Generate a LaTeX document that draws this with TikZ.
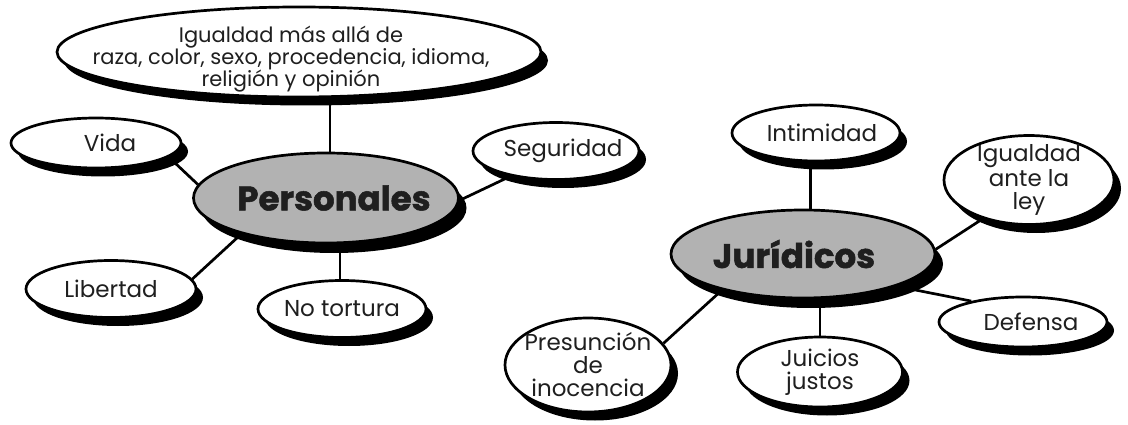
\documentclass[tikz,border=0pt]{standalone}
\usepackage{fontspec}
\setmainfont{Poppins}[BoldFeatures={FakeBold=1.5}]
\usetikzlibrary{shapes.geometric,shadows}
\pgfdeclarelayer{background}
\pgfsetlayers{background,main}
\tikzset{
  ell/.style={ellipse, draw=black, line width=2.7pt, fill=white, inner xsep=-20pt, inner ysep=-15pt,
    align=center, text=black!88},
  bub/.style={ell, font=\fontsize{23}{23}\selectfont,
    drop shadow={shadow xshift=7pt, shadow yshift=-8.5pt, opacity=1, fill=black}},
  hub/.style={ell, fill=black!30, font=\bfseries\fontsize{34}{34}\selectfont,
    drop shadow={shadow xshift=8pt, shadow yshift=-10pt, opacity=1, fill=black}},
  link/.style={line width=2.7pt, black}
}
\begin{document}
\begin{tikzpicture}[x=1pt, y=-1pt]
\useasboundingbox (0,0) rectangle (1128,425);
% Personales
\node[bub, minimum width=484pt, minimum height=90pt, inner xsep=-90pt,
  font=\fontsize{21}{22}\selectfont, text height=9pt, text depth=27pt] (top) at (299,52)
  {\vtop{\baselineskip=21.8pt\lineskiplimit=-50pt\lineskip=0pt
   \halign{\hfil#\hfil\cr Igualdad más allá de\cr raza, color, sexo, procedencia, idioma,\cr religión y opinión\cr}}\hspace*{16pt}};
\node[bub, minimum width=170pt, minimum height=50pt] (vida) at (96,143) {\hspace*{28pt}Vida};
\node[hub, minimum width=265pt, minimum height=90pt] (pers) at (326,198) {\hspace*{16pt}Personales};
\node[bub, minimum width=166pt, minimum height=57pt] (seg) at (556,151) {\hspace*{14pt}Seguridad};
\node[bub, minimum width=170pt, minimum height=57pt] (lib) at (111,289) {Libertad};
\node[bub, minimum width=168pt, minimum height=57pt] (not) at (342,309) {No tortura};
% Juridicos
\node[bub, minimum width=168pt, minimum height=56pt] (int) at (816,133) {\hspace*{12pt}Intimidad};
\node[bub, minimum width=170pt, minimum height=89pt] (igu) at (1029,180) {Igualdad\\ante la\\ley};
\node[hub, minimum width=264pt, minimum height=88pt] (jur) at (803,254) {Jurídicos\hspace*{18pt}};
\node[bub, minimum width=168pt, minimum height=50pt] (def) at (1023,322) {\hspace*{16pt}Defensa};
\node[bub, minimum width=165pt, minimum height=70pt] (jui) at (820,372) {Juicios\\justos};
\node[bub, minimum width=166pt, minimum height=94pt] (pre) at (588,365) {Presunción\\de\\inocencia};
\begin{pgfonlayer}{background}
  \draw[link] (pers.85) -- (pers.85 |- top.south);
  \draw[link] (vida.-11) -- (pers.174);
  \draw[link] (seg.209) -- (pers.-1);
  \draw[link] (lib.7) -- (pers.203);
  \draw[link] (pers.-73) -- (pers.-73 |- not.north);
  \draw[link] (jur.81) -- (jur.81 |- int.south);
  \draw[link] (jur.2) -- (igu.220);
  \draw[link] (jur.-19) -- (def.158);
  \draw[link] (jui.north) -- (jui.north |- jur.south);
  \draw[link] (jur.204) -- (pre.16);
\end{pgfonlayer}
\end{tikzpicture}
\end{document}
